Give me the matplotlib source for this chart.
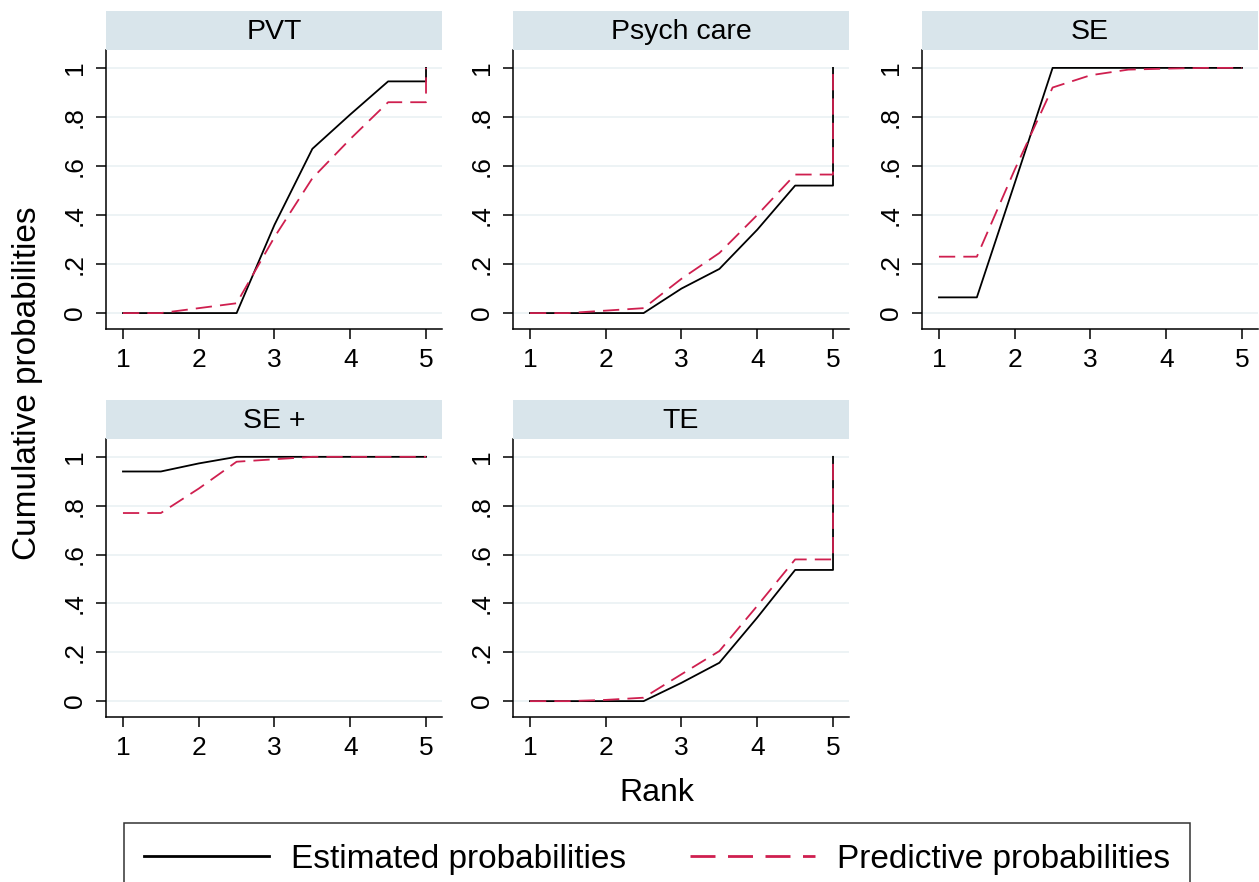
import matplotlib
matplotlib.use('Agg')
import matplotlib.pyplot as plt

plt.rcParams['font.family'] = ['Liberation Sans', 'DejaVu Sans']

# rank grid used by the cumulative ranking curves (last point closes at 1)
ranks = [1, 1.5, 2, 2.5, 3, 3.5, 4, 4.5, 5, 5]

treatments = ['PVT', 'Psych care', 'SE', 'SE +', 'TE']

pvt_est = [0, 0, 0, 0, 0.36, 0.67, 0.81, 0.945, 0.945, 1]
pvt_pred = [0, 0, 0.02, 0.04, 0.31, 0.55, 0.71, 0.86, 0.86, 1]
psych_est = [0, 0, 0, 0, 0.10, 0.18, 0.34, 0.52, 0.52, 1]
psych_pred = [0, 0, 0.01, 0.02, 0.14, 0.245, 0.40, 0.565, 0.565, 1]
se_est = [0.064, 0.064, 0.53, 1, 1, 1, 1, 1, 1, 1]
se_pred = [0.23, 0.23, 0.585, 0.92, 0.97, 0.993, 0.997, 1, 1, 1]
seplus_est = [0.94, 0.94, 0.973, 1, 1, 1, 1, 1, 1, 1]
seplus_pred = [0.77, 0.77, 0.87, 0.98, 0.99, 1, 1, 1, 1, 1]
te_est = [0, 0, 0, 0, 0.075, 0.157, 0.342, 0.537, 0.537, 1]
te_pred = [0, 0, 0.005, 0.014, 0.11, 0.205, 0.39, 0.58, 0.58, 1]

estimated = [pvt_est, psych_est, se_est, seplus_est, te_est]
predictive = [pvt_pred, psych_pred, se_pred, seplus_pred, te_pred]

yticks = [0, 0.2, 0.4, 0.6, 0.8, 1]
yticklabels = ['0', '.2', '.4', '.6', '.8', '1']
xticks = [1, 2, 3, 4, 5]

RED = '#cf1f4f'
STRIP = '#d9e5eb'
GRID = '#eaf1f3'

W, H = 1259, 882
fig = plt.figure(figsize=(W / 100, H / 100), dpi=100)

lefts = [106, 513, 922]
width = 336
rows = [(50, 329, 11), (439, 717, 400)]  # (axes top, axes bottom, strip top) in px

lines = []
for i, name in enumerate(treatments):
    r, c = divmod(i, 3)
    top, bot, stop = rows[r]
    l = lefts[c]
    ax = fig.add_axes([l / W, (H - bot) / H, width / W, (bot - top) / H])
    sax = fig.add_axes([l / W, (H - top) / H, width / W, (top - stop) / H])
    sax.set_facecolor(STRIP)
    sax.set_xticks([])
    sax.set_yticks([])
    for s in sax.spines.values():
        s.set_visible(False)
    sax.text(0.5, 0.46, name, ha='center', va='center', fontsize=20.5,
             transform=sax.transAxes)

    l1, = ax.plot(ranks, estimated[i], color='black', lw=1.3)
    l2, = ax.plot(ranks, predictive[i], color=RED, lw=1.3, dashes=(9, 4.5))
    lines = [l1, l2]

    ax.set_xlim(0.776, 5.211)
    ax.set_ylim(-0.065, 1.073)
    ax.set_xticks(xticks)
    ax.set_yticks(yticks)
    ax.set_yticklabels(yticklabels)
    ax.grid(axis='y', color=GRID, lw=1.2)
    ax.set_axisbelow(True)
    for s in ['top', 'right']:
        ax.spines[s].set_visible(False)
    for s in ['left', 'bottom']:
        ax.spines[s].set_linewidth(1.1)
    ax.tick_params(direction='out', length=7, width=1.1, labelsize=19, pad=7)
    ax.tick_params(axis='y', labelrotation=90)
    for t in ax.get_yticklabels():
        t.set_va('center')

fig.text(28 / W, (H - 383) / H, 'Cumulative probabilities', rotation=90,
         ha='center', va='center', fontsize=24)
fig.text(657 / W, (H - 793) / H, 'Rank', ha='center', va='center', fontsize=23)

leg = fig.legend(lines, ['Estimated probabilities', 'Predictive probabilities'],
                 loc='upper center', bbox_to_anchor=(657 / W, (H - 823) / H),
                 ncol=2, fontsize=24, frameon=True, fancybox=False,
                 edgecolor='black', handlelength=3.75, handletextpad=0.66,
                 columnspacing=1.9, borderpad=0.62, borderaxespad=0)
leg.get_frame().set_linewidth(1.1)
for h in leg.get_lines():
    h.set_linewidth(2)

fig.savefig('out.png', dpi=100, facecolor='white')
